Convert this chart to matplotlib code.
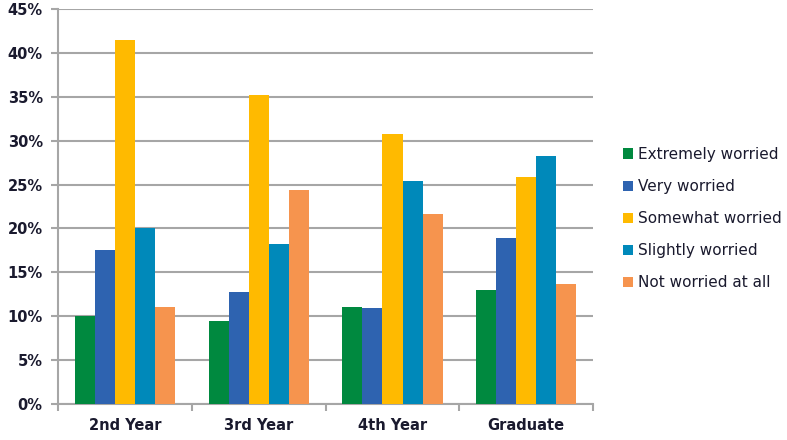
import matplotlib
matplotlib.use("Agg")
import matplotlib.pyplot as plt
from matplotlib.patches import Patch
import numpy as np

# values (percent)
years = ["2nd Year", "3rd Year", "4th Year", "Graduate"]
series = ["Extremely worried", "Very worried", "Somewhat worried",
          "Slightly worried", "Not worried at all"]
extremely = [10.0, 9.4, 11.0, 13.0]
very = [17.5, 12.8, 10.9, 18.9]
somewhat = [41.5, 35.2, 30.8, 25.9]
slightly = [20.0, 18.2, 25.4, 28.3]
not_at_all = [11.1, 24.4, 21.7, 13.7]
colors = ["#00893F", "#2E63B0", "#FFBA00", "#0089BA", "#F6944E"]

values = [extremely, very, somewhat, slightly, not_at_all]

fig = plt.figure(figsize=(7.87, 4.40), dpi=100)
ax = fig.add_axes([0.0737, 0.0818, 0.68, 0.8977])

x = np.arange(len(years))
w = 0.15
for i, (vals, col) in enumerate(zip(values, colors)):
    ax.bar(x + (i - 2) * w, vals, width=w, color=col, zorder=3)

grey = "#A6A6A6"
ax.set_xlim(-0.5, 3.5)
ax.set_ylim(0, 45)
ax.set_yticks(np.arange(0, 46, 5))
ax.set_yticklabels([f"{v}%" for v in range(0, 46, 5)])
ax.yaxis.grid(True, color=grey, linewidth=1.5, zorder=0)
ax.set_axisbelow(True)

ax.set_xticks(x)
ax.set_xticklabels(years)
ax.set_xticks(np.arange(-0.5, 3.6, 1), minor=True)
ax.tick_params(axis="x", which="major", length=0, pad=10)
ax.tick_params(axis="x", which="minor", length=5, width=1.5, color=grey)
ax.tick_params(axis="y", length=5, width=1.5, color=grey, pad=6)

for lab in ax.get_xticklabels() + ax.get_yticklabels():
    lab.set_fontweight("bold")
    lab.set_fontsize(10.5)
    lab.set_color("#1A1A2E")

for s in ["top", "right"]:
    ax.spines[s].set_visible(False)
for s in ["left", "bottom"]:
    ax.spines[s].set_color(grey)
    ax.spines[s].set_linewidth(1.5)

handles = [Patch(facecolor=c, label=l) for c, l in zip(colors, series)]
fig.legend(handles=handles, loc="center left", bbox_to_anchor=(0.774, 0.503),
           frameon=False, fontsize=11, handlelength=0.65, handleheight=0.65,
           handletextpad=0.35, labelspacing=1.12, labelcolor="#1A1A2E")

fig.savefig("out.png", dpi=100)
